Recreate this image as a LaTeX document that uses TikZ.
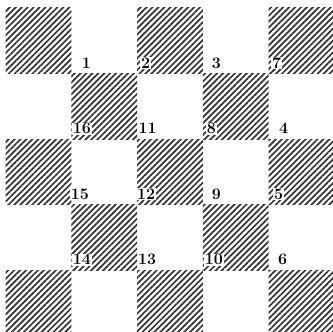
\documentclass[tikz,border=0pt]{standalone}
\usetikzlibrary{patterns.meta}
\begin{document}
\begin{tikzpicture}[x=1pt,y=-1pt,
  hatch/.style={pattern={Lines[angle=45,distance=4.2pt,line width=1.7pt]},pattern color=black!80},
  num/.style={font=\fontsize{16}{16}\selectfont\bfseries,inner sep=0.8pt,fill=white,anchor=base west}]
\useasboundingbox (0,0) rectangle (333,332);
\foreach \i in {0,...,4}{
  \foreach \j in {0,...,4}{
    \pgfmathtruncatemacro\s{\i+\j}
    \ifodd\s\relax\else
      \fill[hatch] ({5.5+65.8*\i},{8+65.5*\j}) rectangle ++(65.8,65.5);
    \fi
  }
}
\foreach \t/\k/\m/\d in {1/1/1/9.5, 2/2/1/3, 3/3/1/8, 7/4/1/2.5,
  16/1/2/0.5, 11/2/2/0.5, 8/3/2/3, 4/4/2/9.5,
  15/1/3/-1.5, 12/2/3/-1, 9/3/3/8, 5/4/3/4.5,
  14/1/4/0.5, 13/2/4/0, 10/3/4/1, 6/4/4/8.5}{
  \node[num] (n\t) at ({5.5+65.8*\k+\d},{8+65.5*\m-5}) {\t};
}
\end{tikzpicture}
\end{document}
